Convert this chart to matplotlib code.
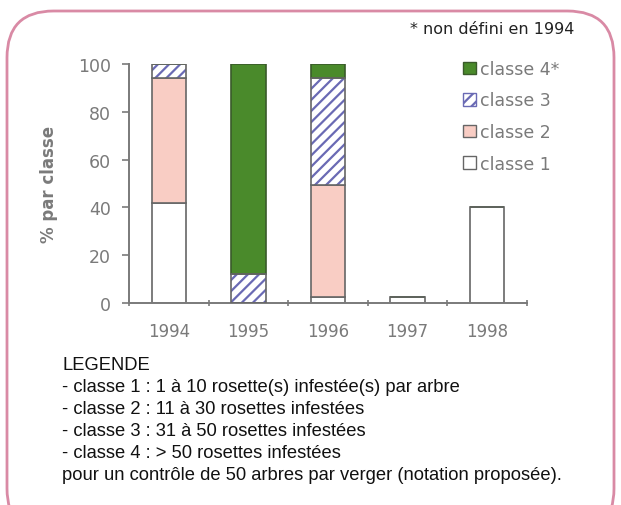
import matplotlib
matplotlib.use("Agg")
import matplotlib.pyplot as plt
from matplotlib.patches import FancyBboxPatch, Patch
import numpy as np

years = ["1994", "1995", "1996", "1997", "1998"]
classe1 = [42, 0, 2.5, 2.5, 40]
classe2 = [52, 0, 47, 0, 0]
classe3 = [6, 12, 44.5, 0, 0]
classe4 = [0, 88, 6, 0, 0]
yticks = [0, 20, 40, 60, 80, 100]
legend_labels = ["classe 4*", "classe 3", "classe 2", "classe 1"]
note_text = "* non défini en 1994"
legend_lines = [
    "LEGENDE",
    "- classe 1 : 1 à 10 rosette(s) infestée(s) par arbre",
    "- classe 2 : 11 à 30 rosettes infestées",
    "- classe 3 : 31 à 50 rosettes infestées",
    "- classe 4 : > 50 rosettes infestées",
    "pour un contrôle de 50 arbres par verger (notation proposée).",
]

GREEN = "#4a8a2b"
PINK = "#f9cdc4"
HATCHC = "#6a6ab4"
EDGE = "#666666"
GRAY = "#7a7a7a"
plt.rcParams["hatch.linewidth"] = 1.6

W, H = 621, 506
fig = plt.figure(figsize=(W / 100, H / 100), dpi=100)
fig.patch.set_facecolor("white")

# rounded pink frame
frame = FancyBboxPatch((7 / W, -30 / H), 607 / W, (H - 12 + 30) / H,
                       boxstyle="round,pad=0,rounding_size=0.075",
                       transform=fig.transFigure, facecolor="none",
                       edgecolor="#d98aa5", linewidth=2.0, mutation_aspect=W / H)
fig.patches.append(frame)

ax = fig.add_axes([129 / W, 1 - 304 / H, (527 - 129) / W, (304 - 65) / H])
x = np.arange(len(years))
bw = 0.43

b1 = np.array(classe1, float)
b2 = np.array(classe2, float)
b3 = np.array(classe3, float)
b4 = np.array(classe4, float)

ax.bar(x, b1, bw, color="white", edgecolor=EDGE, linewidth=1.2, zorder=2)
ax.bar(x, b2, bw, bottom=b1, color=PINK, edgecolor=EDGE, linewidth=1.2, zorder=2)
ax.bar(x, b3, bw, bottom=b1 + b2, color="white", edgecolor=HATCHC,
       hatch="///", linewidth=0, zorder=2)
ax.bar(x, b3, bw, bottom=b1 + b2, fill=False, edgecolor=EDGE, linewidth=1.2, zorder=3)
ax.bar(x, b4, bw, bottom=b1 + b2 + b3, color=GREEN, edgecolor="#3a5a2a",
       linewidth=1.2, zorder=2)

ax.set_xlim(-0.5, len(years) - 0.5)
ax.set_ylim(0, 100)
ax.set_yticks(yticks)
ax.set_yticklabels([str(v) for v in yticks])
ax.set_xticks(x)
ax.set_xticklabels(years)
ax.set_xticks(np.arange(-0.5, len(years)), minor=True)
ax.tick_params(axis="x", which="major", length=0, pad=14, labelsize=12,
               labelcolor=GRAY)
ax.tick_params(axis="x", which="minor", length=5, direction="inout",
               color=GRAY, width=1.2)
ax.tick_params(axis="y", length=5, color=GRAY, width=1.2, labelsize=12.5,
               labelcolor=GRAY, pad=8)
for s in ["top", "right"]:
    ax.spines[s].set_visible(False)
for s in ["left", "bottom"]:
    ax.spines[s].set_color(GRAY)
    ax.spines[s].set_linewidth(1.4)
ax.set_facecolor("none")

ax.set_ylabel("% par classe", fontsize=12, fontweight="bold", color=GRAY,
              labelpad=14)

handles = [
    Patch(facecolor=GREEN, edgecolor="#3a5a2a"),
    Patch(facecolor="white", edgecolor=HATCHC, hatch="///"),
    Patch(facecolor=PINK, edgecolor=EDGE),
    Patch(facecolor="white", edgecolor=EDGE),
]
leg = fig.legend(handles, legend_labels, loc="upper left",
                 bbox_to_anchor=(456 / W, 1 - 54 / H), frameon=False,
                 fontsize=12.5, labelcolor=GRAY, handlelength=0.75,
                 handleheight=0.75, handletextpad=0.25, labelspacing=0.78,
                 borderaxespad=0)

fig.text(574 / W, 1 - 30 / H, note_text, ha="right", va="center",
         fontsize=11.5, color="#222222", family="DejaVu Sans")

y0 = 366
for i, line in enumerate(legend_lines):
    fig.text(62 / W, 1 - (y0 + 22 * i) / H, line, ha="left", va="center",
             fontsize=13.2, color="#111111", family="Liberation Sans")

fig.savefig("out.png", dpi=100)
